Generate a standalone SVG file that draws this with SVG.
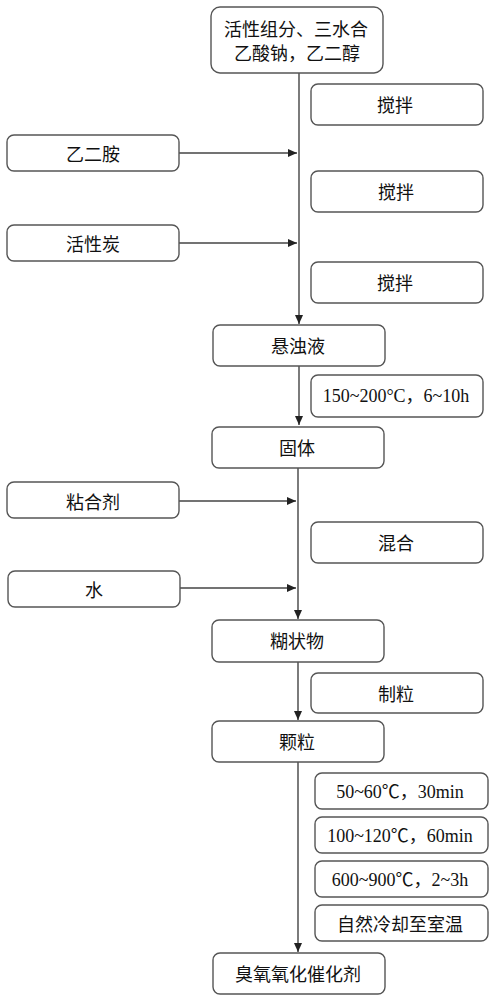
<svg xmlns="http://www.w3.org/2000/svg" width="494" height="1000" viewBox="0 0 494 1000">
<defs>
<style>
.b{fill:#fff;stroke:#555;stroke-width:1.4}
.t{font-family:"Noto Sans CJK SC","Noto Sans",sans-serif;font-size:18px;fill:#111;text-anchor:middle;dominant-baseline:central}
.n{font-family:"Liberation Serif","Noto Sans CJK SC",serif;font-size:18px;fill:#111;text-anchor:middle;dominant-baseline:central}
.c{stroke:#444;stroke-width:1.4;fill:none}
</style>
<marker id="a" markerWidth="10" markerHeight="10" refX="9" refY="5" orient="auto" markerUnits="userSpaceOnUse">
<path d="M0,1 L9,5 L0,9 Z" fill="#222"/>
</marker>
</defs>
<rect width="494" height="1000" fill="#fff"/>
<g id="connectors">
<line class="c" x1="299" y1="73" x2="299" y2="324" marker-end="url(#a)"/>
<line class="c" x1="179" y1="153" x2="297" y2="153" marker-end="url(#a)"/>
<line class="c" x1="179" y1="243" x2="297" y2="243" marker-end="url(#a)"/>
<line class="c" x1="299" y1="366" x2="299" y2="425" marker-end="url(#a)"/>
<line class="c" x1="298" y1="468" x2="298" y2="619" marker-end="url(#a)"/>
<line class="c" x1="179" y1="501" x2="296" y2="501" marker-end="url(#a)"/>
<line class="c" x1="180" y1="588" x2="296" y2="588" marker-end="url(#a)"/>
<line class="c" x1="298" y1="662" x2="298" y2="720" marker-end="url(#a)"/>
<line class="c" x1="298" y1="762" x2="298" y2="952" marker-end="url(#a)"/>
</g>
<g id="n_start"><rect class="b" x="211" y="7" width="172" height="66" rx="9"/><text class="t" x="296" y="28">活性组分、三水合</text><text class="t" x="297" y="52">乙酸钠，乙二醇</text></g>
<g id="n_stir1"><rect class="b" x="311" y="84" width="172" height="41" rx="7"/><text class="t" x="395" y="104">搅拌</text></g>
<g id="n_eda"><rect class="b" x="7" y="135" width="172" height="36" rx="7"/><text class="t" x="93" y="153">乙二胺</text></g>
<g id="n_stir2"><rect class="b" x="311" y="171" width="172" height="41" rx="7"/><text class="t" x="396" y="191">搅拌</text></g>
<g id="n_ac"><rect class="b" x="7" y="225" width="172" height="36" rx="7"/><text class="t" x="93" y="243">活性炭</text></g>
<g id="n_stir3"><rect class="b" x="311" y="262" width="172" height="41" rx="7"/><text class="t" x="395" y="282">搅拌</text></g>
<g id="n_susp"><rect class="b" x="213" y="325" width="172" height="41" rx="7"/><text class="t" x="298" y="345">悬浊液</text></g>
<g id="n_cond1"><rect class="b" x="311" y="375" width="172" height="42" rx="7"/><text class="n" x="396" y="396">150~200°C，6~10h</text></g>
<g id="n_solid"><rect class="b" x="212" y="427" width="172" height="41" rx="7"/><text class="t" x="297" y="447">固体</text></g>
<g id="n_binder"><rect class="b" x="7" y="482" width="172" height="36" rx="7"/><text class="t" x="93" y="501">粘合剂</text></g>
<g id="n_mix"><rect class="b" x="311" y="522" width="172" height="41" rx="7"/><text class="t" x="396" y="542">混合</text></g>
<g id="n_water"><rect class="b" x="8" y="571" width="172" height="36" rx="7"/><text class="t" x="94" y="589">水</text></g>
<g id="n_paste"><rect class="b" x="212" y="620" width="172" height="42" rx="7"/><text class="t" x="297" y="640">糊状物</text></g>
<g id="n_gran"><rect class="b" x="311" y="673" width="172" height="40" rx="7"/><text class="t" x="396" y="693">制粒</text></g>
<g id="n_part"><rect class="b" x="212" y="721" width="172" height="41" rx="7"/><text class="t" x="297" y="741">颗粒</text></g>
<g id="n_c2"><rect class="b" x="315" y="773" width="173" height="36" rx="7"/><text class="n" x="400" y="792">50~60℃，30min</text></g>
<g id="n_c3"><rect class="b" x="315" y="817" width="173" height="36" rx="7"/><text class="n" x="400" y="836">100~120℃，60min</text></g>
<g id="n_c4"><rect class="b" x="315" y="861" width="173" height="36" rx="7"/><text class="n" x="400" y="880">600~900℃，2~3h</text></g>
<g id="n_c5"><rect class="b" x="315" y="905" width="173" height="36" rx="7"/><text class="t" x="400" y="923">自然冷却至室温</text></g>
<g id="n_final"><rect class="b" x="213" y="953" width="172" height="41" rx="7"/><text class="t" x="298" y="973">臭氧氧化催化剂</text></g>
</svg>
